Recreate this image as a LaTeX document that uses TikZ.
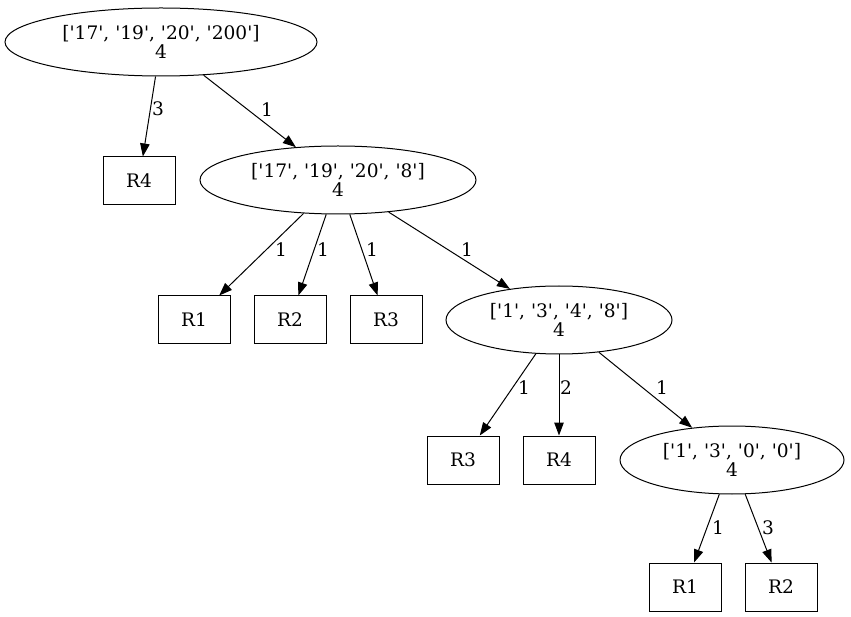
\documentclass[tikz,border=0pt]{standalone}
\usepackage{fontspec}
\setmainfont{DejaVu Serif}[Ligatures=TeXOff]
\usetikzlibrary{shapes.geometric,arrows.meta}
\begin{document}
\begin{tikzpicture}[x=1pt,y=-1pt,
  font=\fontsize{18.6}{19.5}\selectfont,
  split/.style={ellipse, draw, line width=1pt, inner sep=0pt, minimum height=68pt, align=center},
  leaf/.style={rectangle, draw, line width=1pt, inner sep=0pt, minimum width=72pt, minimum height=48pt},
  edge/.style={draw, line width=1pt, -{Triangle[length=13pt,width=9.5pt]}},
  weight/.style={inner sep=0pt}]
\useasboundingbox (0,0) rectangle (851,617);

% decision nodes
\node[split, minimum width=312pt] (n1) at (161,42) {['17', '19', '20', '200']\\4};
\node[split, minimum width=276pt] (n2) at (338,180) {['17', '19', '20', '8']\\4};
\node[split, minimum width=226pt] (n3) at (559,320) {['1', '3', '4', '8']\\4};
\node[split, minimum width=224pt] (n4) at (732,460) {['1', '3', '0', '0']\\4};

% leaves
\node[leaf] (a4) at (139,181) {R4};
\node[leaf] (b1) at (194,320) {R1};
\node[leaf] (b2) at (290,320) {R2};
\node[leaf] (b3) at (386,320) {R3};
\node[leaf] (c3) at (463,460) {R3};
\node[leaf] (c4) at (559,460) {R4};
\node[leaf] (d1) at (685,587) {R1};
\node[leaf] (d2) at (781,587) {R2};

% edges
\draw[edge] (n1) -- (a4);
\draw[edge] (n1) -- (n2);
\draw[edge] (n2) -- (b1);
\draw[edge] (n2) -- (b2);
\draw[edge] (n2) -- (b3);
\draw[edge] (n2) -- (n3);
\draw[edge] (n3) -- (c3);
\draw[edge] (n3) -- (c4);
\draw[edge] (n3) -- (n4);
\draw[edge] (n4) -- (d1);
\draw[edge] (n4) -- (d2);

% edge weights
\node[weight] (w1) at (158,109) {3};
\node[weight] (w2) at (267,110) {1};
\node[weight] (w3) at (281,250) {1};
\node[weight] (w4) at (323,250) {1};
\node[weight] (w5) at (372,250) {1};
\node[weight] (w6) at (467,250) {1};
\node[weight] (w7) at (524,388) {1};
\node[weight] (w8) at (566,388) {2};
\node[weight] (w9) at (662,388) {1};
\node[weight] (w10) at (718,528) {1};
\node[weight] (w11) at (768,528) {3};
\end{tikzpicture}
\end{document}
